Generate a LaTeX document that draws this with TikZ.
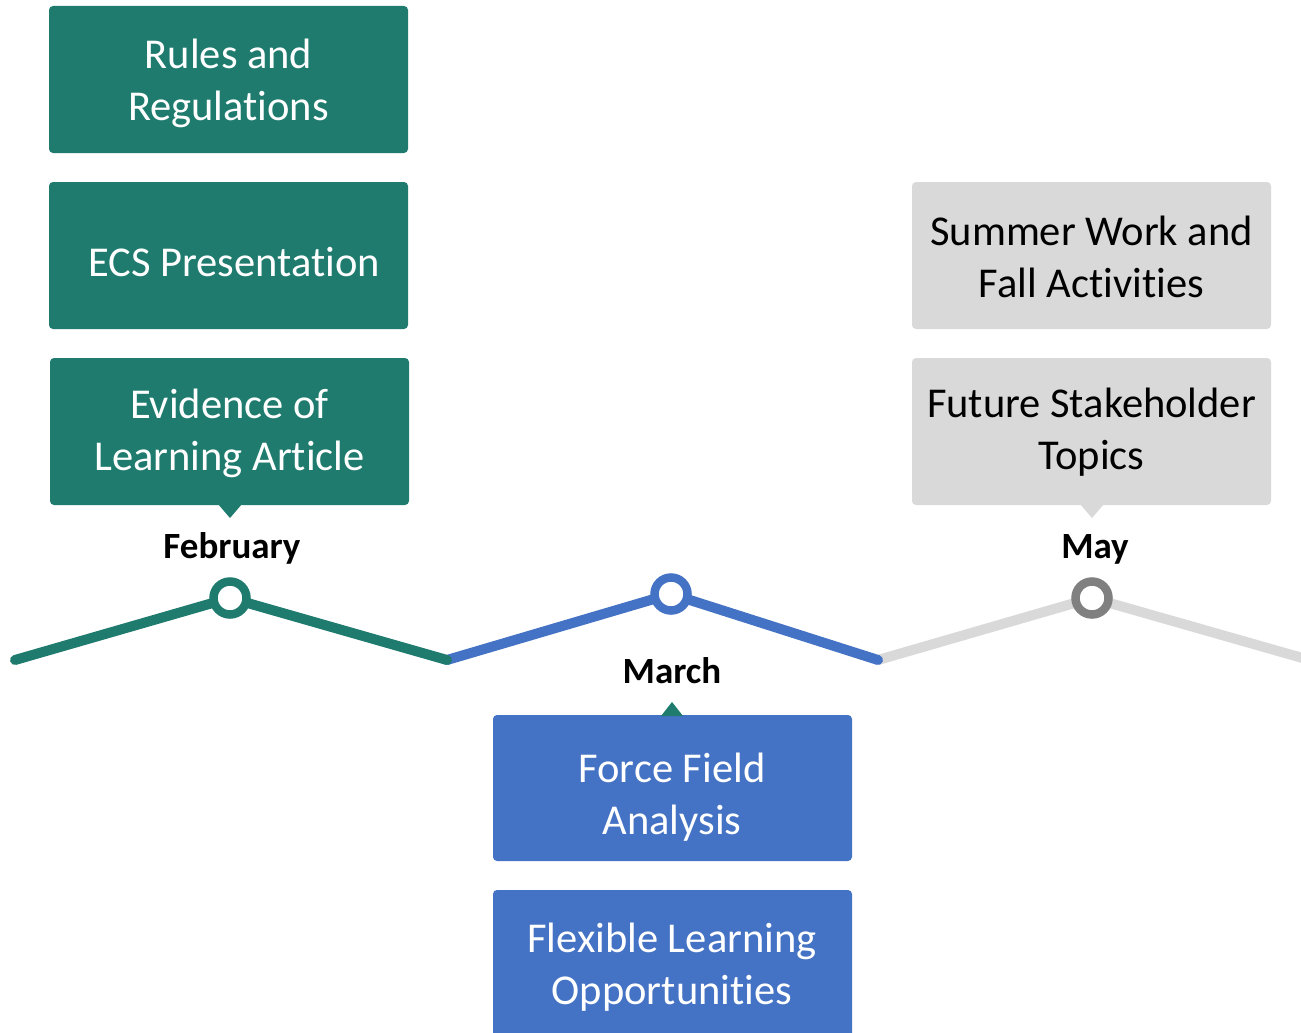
\documentclass[tikz,border=0pt]{standalone}
\usepackage{fontspec}
\setmainfont{Carlito}[Ligatures={NoCommon,NoContextual}]
\definecolor{tealc}{HTML}{1E7B6E}
\definecolor{bluec}{HTML}{4472C4}
\definecolor{grayc}{HTML}{D9D9D9}
\definecolor{darkg}{HTML}{808080}
\begin{document}
\begin{tikzpicture}[x=1pt,y=-1pt,
  panel/.style={rounded corners=4pt},
  boxtext/.style={inner sep=0pt, align=center, font=\fontsize{42.5}{52}\selectfont},
  month/.style={font=\fontsize{37}{40}\selectfont\bfseries, text=black, inner sep=0pt},
  tl/.style={line width=10pt, line cap=round, line join=round},
  dot/.style={circle, fill=white, line width=8.5pt, minimum size=33pt, inner sep=0pt}]
\useasboundingbox (0,0) rectangle (1301,1033);

% box backgrounds
\fill[panel, tealc] (49,6) rectangle (408,153);
\fill[panel, tealc] (49,182) rectangle (408,329);
\fill[panel, tealc] (50,358) rectangle (409,505);
\fill[panel, grayc] (912,182) rectangle (1271,329);
\fill[panel, grayc] (912,358) rectangle (1271,505);
\fill[panel, bluec] (493,715) rectangle (852,861);
\fill[panel, bluec] (493,890) rectangle (852,1040);

% pointers
\fill[tealc] (218,504) -- (242,504) -- (230,518) -- cycle;
\fill[grayc] (1080,504) -- (1104,504) -- (1092,518) -- cycle;
\fill[tealc] (661,716) -- (683,716) -- (672,702) -- cycle;

% box texts
\node[boxtext, text=white] (rules) at (228.5,83) {Rules and\\Regulations};
\node[boxtext, text=white] (ecs) at (234,262.5) {ECS Presentation};
\node[boxtext, text=white] (evid) at (229.5,433) {Evidence of\\Learning Article};
\node[boxtext, text=black] (summer) at (1091.5,256.5) {Summer Work and\\Fall Activities};
\node[boxtext, text=black] (future) at (1091.5,432) {Future Stakeholder\\Topics};
\node[boxtext, text=white] (force) at (672,797.5) {Force Field\\Analysis};
\node[boxtext, text=white] (flex) at (672,967.5) {Flexible Learning\\Opportunities};

% month labels
\node[month] (lfeb) at (232,548) {February};
\node[month] (lmar) at (672,670.5) {March};
\node[month] (lmay) at (1095,549) {May};

% timeline coordinates
\coordinate (p0) at (15,660);
\coordinate (p1) at (447,660);
\coordinate (p2) at (878,660);
\coordinate (p3) at (1320,663);
\coordinate (c1) at (230,598);
\coordinate (c2) at (671,594);
\coordinate (c3) at (1092,598);

\draw[tl, grayc] (p2) -- (c3) -- (p3);
\draw[tl, bluec] (p1) -- (c2) -- (p2);
\draw[tl, tealc] (p0) -- (c1) -- (p1);

\node[dot, draw=tealc] (feb) at (c1) {};
\node[dot, draw=bluec] (mar) at (c2) {};
\node[dot, draw=darkg] (may) at (c3) {};
\end{tikzpicture}
\end{document}
